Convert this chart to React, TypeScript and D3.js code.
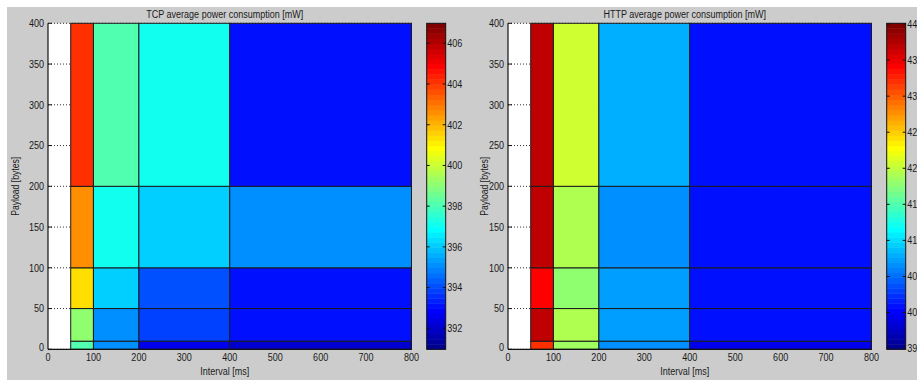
import React from 'react';
import * as d3 from 'd3';

// ---- data ----
const intervalEdges = [50, 100, 200, 400, 800];
const payloadEdges = [0, 10, 50, 100, 200, 400];
const xTicks = [0, 100, 200, 300, 400, 500, 600, 700, 800];
const yTicks = [0, 50, 100, 150, 200, 250, 300, 350, 400];

// rows: payload bins bottom-up (0-10, 10-50, 50-100, 100-200, 200-400)
// cols: interval bins (50-100, 100-200, 200-400, 400-800)
const tcpValues = [
  [398.0, 395.0, 392.7, 392.0],
  [399.2, 395.2, 393.9, 393.1],
  [401.3, 396.1, 394.0, 393.2],
  [402.5, 397.0, 396.1, 395.2],
  [404.1, 398.1, 397.2, 393.2],
];
const httpValues = [
  [431.8, 418.9, 406.2, 399.8],
  [436.9, 419.6, 407.6, 400.8],
  [434.0, 418.2, 407.6, 401.0],
  [436.9, 419.6, 406.3, 400.6],
  [436.9, 421.0, 408.0, 401.0],
];
const tcpColorTicks = [392, 394, 396, 398, 400, 402, 404, 406];
const httpColorTicks = [395, 400, 405, 410, 415, 420, 425, 430, 435, 440];
const tcpRange: [number, number] = [390.97, 406.98];
const httpRange: [number, number] = [394.9, 440.1];
const tcpTitle = 'TCP average power consumption [mW]';
const httpTitle = 'HTTP average power consumption [mW]';
const xLabel = 'Interval [ms]';
const yLabel = 'Payload [bytes]';

// MATLAB jet(64)
function jetMap(m: number): string[] {
  const n = Math.ceil(m / 4);
  const u: number[] = [];
  for (let i = 1; i <= n; i++) u.push(i / n);
  for (let i = 0; i < n - 1; i++) u.push(1);
  for (let i = n; i >= 1; i--) u.push(i / n);
  const off = Math.ceil(n / 2) - (m % 4 === 1 ? 1 : 0);
  const J = Array.from({ length: m }, () => [0, 0, 0]);
  const g: number[] = u.map((_, i) => off + i + 1);
  const r = g.map((v) => v + n).filter((v) => v <= m);
  const b = g.map((v) => v - n).filter((v) => v >= 1);
  const gg = g.filter((v) => v <= m);
  r.forEach((idx, i) => (J[idx - 1][0] = u[i]));
  gg.forEach((idx, i) => (J[idx - 1][1] = u[i]));
  b.forEach((idx, i) => (J[idx - 1][2] = u[u.length - b.length + i]));
  return J.map(([R, G, B]) => d3.rgb(R * 255, G * 255, B * 255).formatHex());
}
const JET = jetMap(64);

const FONT = '"Liberation Sans", Arial, sans-serif';
const TXT = '#1a1a1a';
const SX = 0.82;

function NText({ x, y, anchor = 'start', size = 11, rotate = 0, children }: {
  x: number; y: number; anchor?: string; size?: number; rotate?: number; children: React.ReactNode;
}) {
  return (
    <text
      transform={`translate(${x},${y}) rotate(${rotate}) scale(${SX},1)`}
      dy="0.35em"
      textAnchor={anchor}
      fontSize={size}
      fontFamily={FONT}
      fill={TXT}
    >
      {children}
    </text>
  );
}

function Panel({ ox, values, range, cticks, title, ylabX }: {
  ox: number; values: number[][]; range: [number, number]; cticks: number[]; title: string; ylabX: number;
}) {
  const x = d3.scaleLinear().domain([0, 800]).range([ox + 48, ox + 411.5]);
  const y = d3.scaleLinear().domain([0, 400]).range([349.3, 23.3]);
  const cIdx = d3.scaleQuantize<string>().domain(range).range(JET);
  const cy = d3.scaleLinear().domain(range).range([349.3, 23.3]);
  const cx0 = ox + 426.7;
  const cx1 = ox + 445.7;
  const bandH = (cy(range[0]) - cy(range[1])) / JET.length;
  const cxMid = (x(0) + x(800)) / 2 - 5;
  return (
    <g>
      <rect x={x(0)} y={y(400)} width={x(800) - x(0)} height={y(0) - y(400)} fill="#fff" />
      {yTicks.map((t) => (
        <line key={'gy' + t} x1={x(0)} x2={x(800)} y1={y(t)} y2={y(t)} stroke="#333" strokeWidth={1} strokeDasharray="1,2" />
      ))}
      {yTicks.map((t) => (
        <line key={'ty' + t} x1={x(0)} x2={x(0) + 4} y1={y(t)} y2={y(t)} stroke="#111" strokeWidth={1} />
      ))}
      {values.map((row, ri) =>
        row.map((v, ci) => (
          <rect
            key={`c${ri}-${ci}`}
            x={x(intervalEdges[ci])}
            y={y(payloadEdges[ri + 1])}
            width={x(intervalEdges[ci + 1]) - x(intervalEdges[ci])}
            height={y(payloadEdges[ri]) - y(payloadEdges[ri + 1])}
            fill={cIdx(v)}
            stroke="#1a1a1a"
            strokeWidth={1}
          />
        ))
      )}
      <line x1={x(0)} x2={x(0)} y1={y(0)} y2={y(400)} stroke="#111" strokeWidth={1.2} />
      <line x1={x(0)} x2={x(800)} y1={y(0)} y2={y(0)} stroke="#111" strokeWidth={1.2} />
      {yTicks.map((t) => (
        <NText key={'ly' + t} x={x(0) - 4} y={y(t) - (t === 0 ? 2 : 0)} anchor="end">{t}</NText>
      ))}
      {xTicks.map((t) => (
        <NText key={'lx' + t} x={x(t)} y={357} anchor="middle">{t}</NText>
      ))}
      <NText x={cxMid} y={371} anchor="middle">{xLabel}</NText>
      <NText x={cxMid} y={14} anchor="middle">{title}</NText>
      <NText x={ylabX} y={(y(0) + y(400)) / 2} anchor="middle" rotate={-90} size={10.5}>{yLabel}</NText>
      {JET.map((c, i) => (
        <rect key={'cb' + i} x={cx0} width={cx1 - cx0} y={cy(range[0]) - (i + 1) * bandH} height={bandH + 0.4} fill={c} />
      ))}
      <rect x={cx0} y={cy(range[1])} width={cx1 - cx0} height={cy(range[0]) - cy(range[1])} fill="none" stroke="#111" strokeWidth={1} />
      {cticks.map((t) => (
        <g key={'ct' + t}>
          <line x1={cx0} x2={cx0 + 3} y1={cy(t)} y2={cy(t)} stroke="#111" />
          <line x1={cx1 - 3} x2={cx1} y1={cy(t)} y2={cy(t)} stroke="#111" />
          <NText x={cx1 + 1.5} y={cy(t)}>{t}</NText>
        </g>
      ))}
    </g>
  );
}

export default function App() {
  return (
    <svg width={917} height={380} style={{ position: 'absolute', left: 0, top: 0 }}>
      <rect x={0} y={0} width={917} height={380} fill="#fff" />
      <rect x={7} y={7} width={910} height={373} fill="#cccccc" />
      <Panel ox={0} values={tcpValues} range={tcpRange} cticks={tcpColorTicks} title={tcpTitle} ylabX={15.5} />
      <Panel ox={460} values={httpValues} range={httpRange} cticks={httpColorTicks} title={httpTitle} ylabX={484} />
    </svg>
  );
}
